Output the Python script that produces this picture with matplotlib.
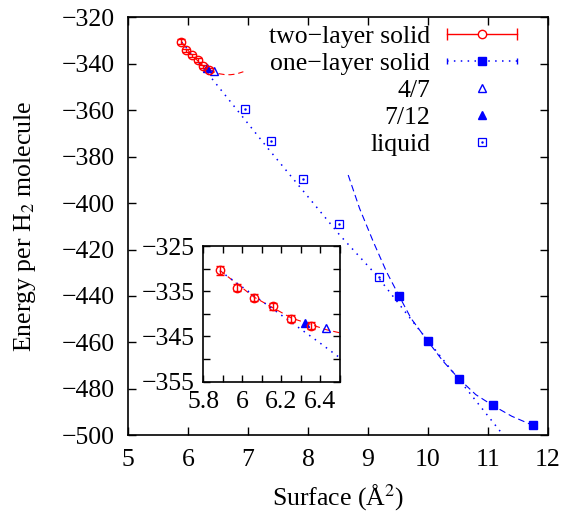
import matplotlib
matplotlib.use('Agg')
import matplotlib.pyplot as plt
from matplotlib.lines import Line2D
from matplotlib.legend_handler import HandlerLine2D
from matplotlib.ticker import MultipleLocator, FuncFormatter

# two-layer solid (points with error bars) and its fit
two_x = [5.885, 5.97, 6.06, 6.155, 6.25, 6.35]
two_y = [-330.4, -334.2, -336.4, -338.3, -341.1, -342.6]
two_err = [0.9, 0.8, 0.8, 0.8, 0.8, 0.8]
two_fit_x = [5.885, 6.06, 6.25, 6.43, 6.5, 6.6, 6.7, 6.8, 6.92]
two_fit_y = [-330.4, -336.3, -340.9, -343.5, -344.2, -344.6, -344.7, -344.4, -343.4]

# one-layer solid points and fit
one_x = [9.52, 10.0, 10.52, 11.08, 11.75]
one_y = [-440.0, -459.5, -475.7, -487.1, -495.7]
one_fit_x = [8.67, 8.86, 9.09, 9.31, 9.52, 9.72, 10.0, 10.25, 10.52, 10.8, 11.08, 11.4, 11.75]
one_fit_y = [-387.9, -402.3, -416.7, -429.6, -440.0, -449.7, -459.5, -468.0, -475.7, -482.5, -487.1, -491.8, -495.7]

# liquid points and the dotted line
liq_x = [6.94, 7.38, 7.91, 8.51, 9.19]
liq_y = [-359.3, -373.4, -389.7, -409.1, -432.0]
dot_x = [5.885, 6.39, 7.33, 8.53, 9.14, 9.86, 10.5, 11.26]
dot_y = [-330.5, -346.2, -376.4, -413.8, -431.0, -454.7, -475.4, -500.0]

# commensurate phases
x47, y47 = [6.43], [-343.1]
x712, y712 = [6.32], [-342.0]

RED = '#ff0000'
BLUE = '#0000ff'
FS = 18.5

plt.rcParams['font.family'] = ['Liberation Serif', 'DejaVu Serif']
plt.rcParams['mathtext.fontset'] = 'stix'
plt.rcParams['font.size'] = FS


def minus(v, fmt='%g'):
    return (fmt % v).replace('-', '\u2212')


def draw(a):
    a.plot(two_fit_x, two_fit_y, color=RED, ls=(0, (5.5, 3.5)), lw=0.8, zorder=2)
    a.plot(dot_x, dot_y, color=BLUE, ls=(0, (1, 3.5)), lw=1.1, zorder=2)
    a.plot(one_fit_x, one_fit_y, color=BLUE, ls=(0, (6, 3.5)), lw=0.8, zorder=2)
    a.errorbar(two_x, two_y, yerr=two_err, fmt='o', color=RED, mfc='none', ms=6,
               mew=1.0, elinewidth=1.0, capsize=3, capthick=1.0, zorder=3)
    a.plot(one_x, one_y, 's', color=BLUE, ms=6, zorder=3)
    a.plot(x47, y47, '^', color=BLUE, mfc='none', ms=5.5, mew=1.0, zorder=3)
    a.plot(x712, y712, '^', color=BLUE, ms=5.5, zorder=3)
    a.plot(liq_x, liq_y, 's', color=BLUE, mfc='none', ms=6, mew=0.9, zorder=3)
    a.plot(liq_x, liq_y, '.', color=BLUE, ms=1.5, zorder=3)


fig = plt.figure(figsize=(5.66, 5.15), dpi=100)
ax = fig.add_axes([0.2267, 0.1548, 0.741, 0.8114])
draw(ax)
ax.set_xlim(5, 12)
ax.set_ylim(-500, -320)
ax.set_xticks(range(5, 13))
ax.set_yticks(range(-500, -319, 20))
ax.yaxis.set_major_formatter(FuncFormatter(lambda v, p: minus(v)))
ax.tick_params(direction='in', top=True, right=True, length=6, width=1,
               labelsize=FS)
ax.tick_params(axis='x', pad=10)
ax.tick_params(axis='y', pad=10)
for s in ax.spines.values():
    s.set_linewidth(1.2)
ax.set_xlabel('Surface (Å$^2$)')
ax.set_ylabel('Energy per H$_2$ molecule')
ax.xaxis.set_label_coords(0.5, -0.112)
ax.yaxis.set_label_coords(-0.215, 0.5)

# legend
red_line = Line2D([], [], color=RED, lw=1.0)
red_caps = Line2D([], [], color=RED, ls='none', marker='|', ms=8, mew=1.0)
red_circ = Line2D([], [], color=RED, ls='none', marker='o', mfc='white', ms=6, mew=1.0)
blue_line = Line2D([], [], color=BLUE, ls=(0, (1, 3.5)), lw=1.1)
blue_caps = Line2D([], [], color=BLUE, ls='none', marker='|', ms=4, mew=1.0)
blue_sq = Line2D([], [], color=BLUE, ls='none', marker='s', ms=6)
h47 = Line2D([], [], color=BLUE, ls='none', marker='^', mfc='none', ms=5.5, mew=1.0)
h712 = Line2D([], [], color=BLUE, ls='none', marker='^', ms=5.5)
liq_sq = Line2D([], [], color=BLUE, ls='none', marker='s', mfc='none', ms=6, mew=0.9)
liq_dot = Line2D([], [], color=BLUE, ls='none', marker='.', ms=1.5)

handles = [(red_line, red_caps, red_circ), (blue_line, blue_caps, blue_sq),
           h47, h712, (liq_sq, liq_dot)]
labels = ['two\u2212layer solid', 'one\u2212layer solid', '4/7', '7/12', 'liquid']
hmap = {red_caps: HandlerLine2D(numpoints=2, marker_pad=0),
        blue_caps: HandlerLine2D(numpoints=2, marker_pad=0)}
ax.legend(handles, labels, loc='upper right', bbox_to_anchor=(0.9134, 0.951),
          bbox_transform=fig.transFigure, frameon=False, markerfirst=False,
          handlelength=2.72, handletextpad=0.66, labelspacing=0.15,
          borderpad=0, borderaxespad=0, handler_map=hmap, fontsize=FS)

# inset
axi = fig.add_axes([0.3592, 0.2588, 0.2415, 0.2635])
draw(axi)
axi.set_xlim(5.8, 6.5)
axi.set_ylim(-355, -325)
axi.xaxis.set_major_locator(MultipleLocator(0.1))
axi.yaxis.set_major_locator(MultipleLocator(5))
axi.xaxis.set_major_formatter(FuncFormatter(
    lambda v, p: minus(round(v, 1)) if round(v * 10) % 2 == 0 else ''))
axi.yaxis.set_major_formatter(FuncFormatter(
    lambda v, p: minus(round(v)) if round(v) % 10 == 5 else ''))
axi.tick_params(direction='in', top=True, right=True, length=5, width=1,
                labelsize=FS)
axi.tick_params(axis='x', pad=7)
axi.tick_params(axis='y', pad=6)
for s in axi.spines.values():
    s.set_linewidth(1.2)

fig.savefig('out.png', dpi=100)
